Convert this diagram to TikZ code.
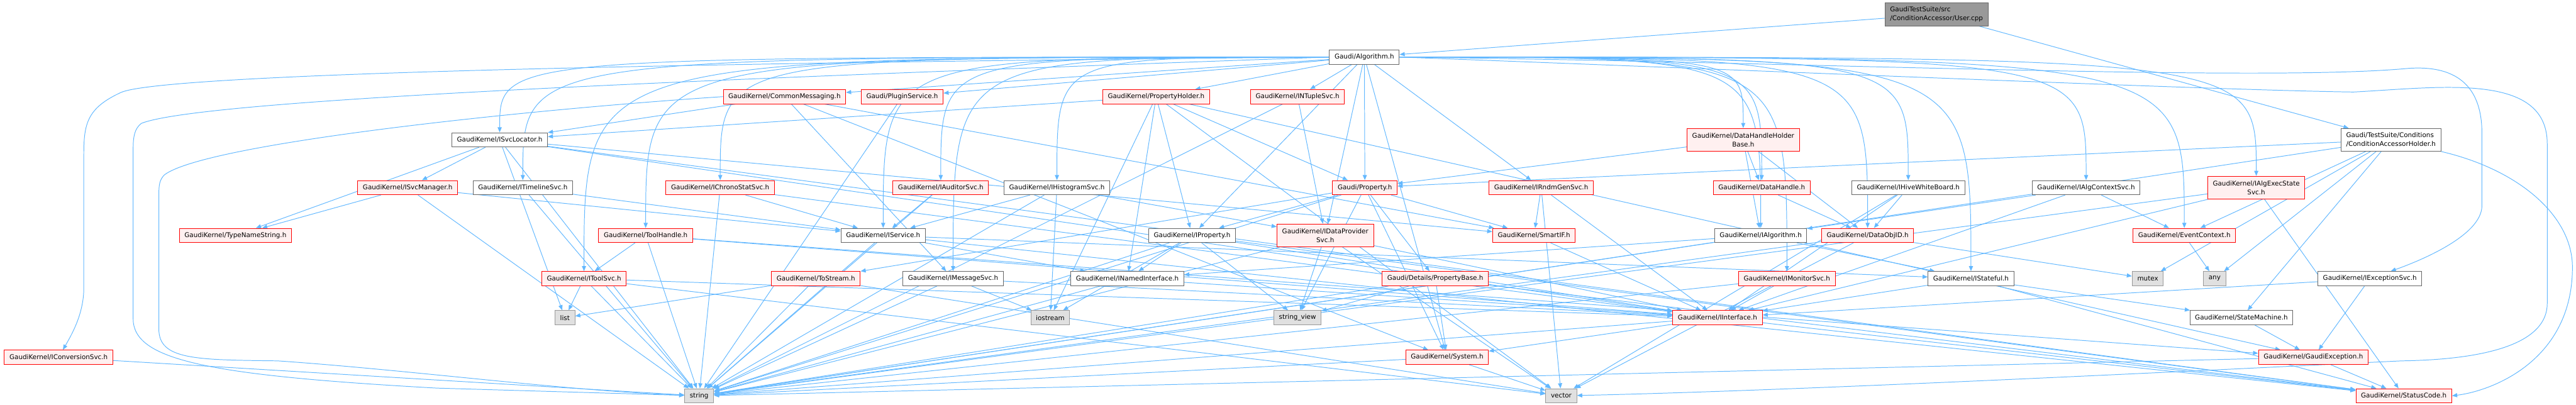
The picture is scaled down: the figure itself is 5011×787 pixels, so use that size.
\documentclass[tikz,border=0pt]{standalone}
\usepackage{fontspec}
\setmainfont{DejaVu Sans}
\usetikzlibrary{positioning, arrows.meta, backgrounds}

\definecolor{edgeblue}{HTML}{63B8FF}
\definecolor{redfill}{HTML}{FFF0F0}
\definecolor{grayline}{HTML}{666666}
\definecolor{sysfill}{HTML}{E0E0E0}
\definecolor{sysline}{HTML}{999999}
\definecolor{mainfill}{HTML}{999999}

\begin{document}
\begin{tikzpicture}[
    x=1pt, y=-1pt,          % 1単位 = 1px（下向き）
    >={Stealth[length=10pt, width=8pt, inset=0pt]},
    font=\fontsize{12.7}{17}\selectfont,
    % ヘッダファイルの箱
    file/.style={rectangle, draw=grayline, fill=white, line width=1.2pt,
                 inner xsep=10pt, inner ysep=0pt, minimum height=27.7pt},
    % 中身が省略されたヘッダ（赤枠）
    trunc/.style={file, draw=red, fill=redfill},
    % 標準ライブラリ（灰色）
    sys/.style={file, draw=sysline, fill=sysfill},
    twoline/.style={minimum height=44.3pt},
    % 依存関係の矢印
    dep/.style={edgeblue, draw, line width=1.2pt, ->},
    % 横に出てから下へ曲がる線
    lcurve/.style={to path={(\tikztostart.west) .. controls
        (\tikztotarget |- \tikztostart) .. (\tikztotarget.north)}},
    rcurve/.style={to path={(\tikztostart.east) .. controls
        (\tikztotarget |- \tikztostart) .. (\tikztotarget.north)}}
]
    \useasboundingbox (0,0) rectangle (5011,787);

    % --- 1. 起点のファイル ---
    \node [file, fill=mainfill, twoline, align=left] (user) at (3767,28)
        {GaudiTestSuite/src\\/ConditionAccessor/User.cpp};
    \node [file] (alg) at (2654,111) {Gaudi/Algorithm.h};

    % --- 2. 各段のヘッダ ---
    \node [trunc] (cmsg)       at (1526,188) {GaudiKernel/CommonMessaging.h};
    \node [trunc] (plugin)     at (1755,188) {Gaudi/PluginService.h};
    \node [trunc] (propholder) at (2249,188) {GaudiKernel/PropertyHolder.h};
    \node [trunc] (ntuple)     at (2524,188) {GaudiKernel/INTupleSvc.h};

    \node [file] (svcloc) at (972,272) {GaudiKernel/ISvcLocator.h};
    \node [trunc, twoline, align=center] (dhhb) at (3391,272)
        {GaudiKernel/DataHandleHolder\\Base.h};
    \node [file, twoline, align=left] (cah) at (4651,272)
        {Gaudi/TestSuite/Conditions\\/ConditionAccessorHolder.h};

    \node [trunc] (svcmgr)     at (793,365)  {GaudiKernel/ISvcManager.h};
    \node [file]  (timeline)   at (1017,365) {GaudiKernel/ITimelineSvc.h};
    \node [trunc] (chrono)     at (1401,365) {GaudiKernel/IChronoStatSvc.h};
    \node [trunc] (auditor)    at (1830,365) {GaudiKernel/IAuditorSvc.h};
    \node [file]  (histo)      at (2056,365) {GaudiKernel/IHistogramSvc.h};
    \node [trunc] (property)   at (2655,365) {Gaudi/Property.h};
    \node [trunc] (rndm)       at (2998,365) {GaudiKernel/IRndmGenSvc.h};
    \node [trunc] (datahandle) at (3427,365) {GaudiKernel/DataHandle.h};
    \node [file]  (hive)       at (3712,365) {GaudiKernel/IHiveWhiteBoard.h};
    \node [file]  (algctx)     at (4058,365) {GaudiKernel/IAlgContextSvc.h};
    \node [trunc, twoline, align=center] (algexec) at (4389,365)
        {GaudiKernel/IAlgExecState\\Svc.h};

    \node [trunc] (typename)   at (458,458)  {GaudiKernel/TypeNameString.h};
    \node [trunc] (toolhandle) at (1256,458) {GaudiKernel/ToolHandle.h};
    \node [file]  (iservice)   at (1718,458) {GaudiKernel/IService.h};
    \node [file]  (iproperty)  at (2319,458) {GaudiKernel/IProperty.h};
    \node [trunc, twoline, align=center] (dataprov) at (2578,458)
        {GaudiKernel/IDataProvider\\Svc.h};
    \node [trunc] (smartif)    at (2984,458) {GaudiKernel/SmartIF.h};
    \node [file]  (ialgorithm) at (3425,458) {GaudiKernel/IAlgorithm.h};
    \node [trunc] (dataobjid)  at (3633,458) {GaudiKernel/DataObjID.h};
    \node [trunc] (evctx)      at (4249,458) {GaudiKernel/EventContext.h};

    \node [trunc] (toolsvc)    at (1136,542) {GaudiKernel/IToolSvc.h};
    \node [trunc] (tostream)   at (1587,542) {GaudiKernel/ToStream.h};
    \node [file]  (msgsvc)     at (1854,542) {GaudiKernel/IMessageSvc.h};
    \node [file]  (named)      at (2193,542) {GaudiKernel/INamedInterface.h};
    \node [trunc] (propbase)   at (2792,542) {Gaudi/Details/PropertyBase.h};
    \node [trunc] (monitor)    at (3476,542) {GaudiKernel/IMonitorSvc.h};
    \node [file]  (stateful)   at (3834,542) {GaudiKernel/IStateful.h};
    \node [sys]   (mutex)      at (4178,542) {mutex};
    \node [sys]   (any)        at (4308,542) {any};
    \node [file]  (excsvc)     at (4610,542) {GaudiKernel/IExceptionSvc.h};

    \node [sys]   (list)         at (1099,618) {list};
    \node [sys]   (iostream)     at (2043,618) {iostream};
    \node [sys]   (stringview)   at (2524,618) {string\_view};
    \node [trunc] (iinterface)   at (3341,618) {GaudiKernel/IInterface.h};
    \node [file]  (statemachine) at (4360,618) {GaudiKernel/StateMachine.h};

    \node [trunc] (convsvc) at (114,695)  {GaudiKernel/IConversionSvc.h};
    \node [trunc] (system)  at (2815,695) {GaudiKernel/System.h};
    \node [trunc] (gexc)    at (4500,695) {GaudiKernel/GaudiException.h};

    \node [sys]   (string)     at (1360,770) {string};
    \node [sys]   (vector)     at (3037,770) {vector};
    \node [trunc] (statuscode) at (4676,770) {GaudiKernel/StatusCode.h};

    % --- 3. 依存関係（箱の下に描く） ---
    \begin{pgfonlayer}{background}
    \path [dep] (user) edge (alg) edge (cah);

    \path [dep] (alg) edge (plugin) edge (cmsg) edge (propholder) edge (ntuple)
        edge (property) edge (rndm) edge (iproperty) edge (dataprov)
        edge (system);
    \path [dep] (alg) edge[lcurve] (svcloc) edge[lcurve] (timeline)
        edge[lcurve] (chrono) edge[lcurve] (auditor) edge[lcurve] (histo)
        edge[lcurve] (toolhandle) edge[lcurve] (iservice)
        edge[lcurve] (toolsvc) edge[lcurve] (msgsvc);
    \path [dep] (alg) edge[rcurve] (datahandle) edge[rcurve] (hive)
        edge[rcurve] (algctx) edge[rcurve] (algexec) edge[rcurve] (dhhb)
        edge[rcurve] (ialgorithm) edge[rcurve] (dataobjid)
        edge[rcurve] (evctx) edge[rcurve] (monitor) edge[rcurve] (stateful);
    % 左右を大きく回り込む線
    \draw [dep] (alg.west) .. controls (1000,125) and (300,150) .. (235,180)
        .. controls (170,210) and (163,240) .. (163,300) -- (163,560)
        .. controls (163,610) and (140,650) .. (convsvc);
    \draw [dep] (alg.west) .. controls (1500,150) and (400,190) .. (275,240)
        .. controls (262,250) and (259,265) .. (259,290) -- (259,620)
        .. controls (259,700) and (400,730) .. (850,755) -- (string);
    \draw [dep] (alg.east) .. controls (3500,120) and (4400,160) .. (4685,133)
        .. controls (4800,125) and (4828,190) .. (4828,260) -- (4828,400)
        .. controls (4828,460) and (4700,510) .. (excsvc);
    \draw [dep] (alg.east) .. controls (3500,140) and (4300,175) .. (4578,179)
        .. controls (4750,170) and (4955,140) .. (4955,280) -- (4955,590)
        .. controls (4955,680) and (4800,700) .. (4672,702)
        .. controls (4300,720) and (3500,760) .. (vector);

    \path [dep] (cah) edge (property) edge (evctx) edge (mutex) edge (any)
        edge (statemachine) edge (string);
    \draw [dep] (cah) .. controls (4900,330) and (5004,420) .. (5004,520)
        .. controls (5004,700) and (4850,760) .. (statuscode.east);

    \path [dep] (cmsg) edge (svcloc) edge (msgsvc) edge (smartif) edge (system);
    \draw [dep] (cmsg.west) .. controls (1000,215) and (400,280) .. (320,340)
        .. controls (310,350) and (309,360) .. (309,380) -- (309,640)
        .. controls (309,700) and (380,700) .. (540,702)
        .. controls (800,720) and (1100,760) .. (string);

    \path [dep] (plugin) edge (string);
    \path [dep] (propholder) edge (svcloc) edge (property) edge (iproperty)
        edge (named) edge (iostream) edge (gexc) edge (vector);
    \path [dep] (ntuple) edge (dataprov) edge (string);
    \path [dep] (svcloc) edge (typename) edge (svcmgr) edge (list) edge (string)
        edge (smartif) edge (iinterface) edge (statuscode);
    \path [dep] (dhhb) edge (property) edge (datahandle) edge (ialgorithm)
        edge (dataobjid);

    \path [dep] (convsvc) edge (string);
    \path [dep] (svcmgr) edge (typename) edge (iservice) edge (string);
    \path [dep] (timeline) edge (iservice) edge (string);
    \path [dep] (chrono) edge (iservice) edge (string) edge (iinterface);
    \path [dep] (auditor) edge (iservice) edge (string);
    \path [dep] (histo) edge (iservice) edge (dataprov) edge (iostream)
        edge (string);
    \path [dep] (property) edge (propbase) edge (stringview) edge (tostream)
        edge (iproperty) edge (smartif) edge (system) edge (string);
    \path [dep] (rndm) edge (smartif) edge (iinterface) edge (vector);
    \path [dep] (datahandle) edge (dataobjid);
    \path [dep] (hive) edge (dataobjid) edge (iinterface) edge (vector);
    \path [dep] (algctx) edge (ialgorithm) edge (iinterface) edge (evctx);
    \path [dep] (algexec) edge (iinterface) edge (statuscode) edge (string);

    \path [dep] (toolhandle) edge (toolsvc) edge (string) edge (iinterface)
        edge (gexc);
    \path [dep] (iservice) edge (named) edge (stateful) edge (statuscode)
        edge (string);
    \path [dep] (iproperty) edge (named) edge (iostream) edge (stringview)
        edge (string) edge (iinterface) edge (statuscode);
    \path [dep] (dataprov) edge (stringview) edge (iinterface) edge (string)
        edge (vector);
    \path [dep] (smartif) edge (iinterface);
    \path [dep] (ialgorithm) edge (stateful) edge (named) edge (string);
    \path [dep] (dataobjid) edge (string) edge (mutex) edge (vector);
    \path [dep] (evctx) edge (any);

    \path [dep] (toolsvc) edge (list) edge (string) edge (iinterface)
        edge (vector);
    \path [dep] (tostream) edge (list) edge (string) edge (vector);
    \path [dep] (msgsvc) edge (iostream) edge (string) edge (iinterface);
    \path [dep] (named) edge (iinterface) edge (string);
    \path [dep] (propbase) edge (stringview) edge (string) edge (system)
        edge (statuscode);
    \path [dep] (monitor) edge (iinterface) edge (string);
    \path [dep] (stateful) edge (iinterface) edge (statemachine)
        edge (statuscode);
    \path [dep] (excsvc) edge (gexc) edge (iinterface);

    \path [dep] (iinterface) edge (system) edge (statuscode) edge (string);
    \path [dep] (statemachine) edge (gexc);
    \path [dep] (system) edge (string) edge (vector);
    \path [dep] (gexc) edge (statuscode) edge (string);
    \end{pgfonlayer}

\end{tikzpicture}
\end{document}
